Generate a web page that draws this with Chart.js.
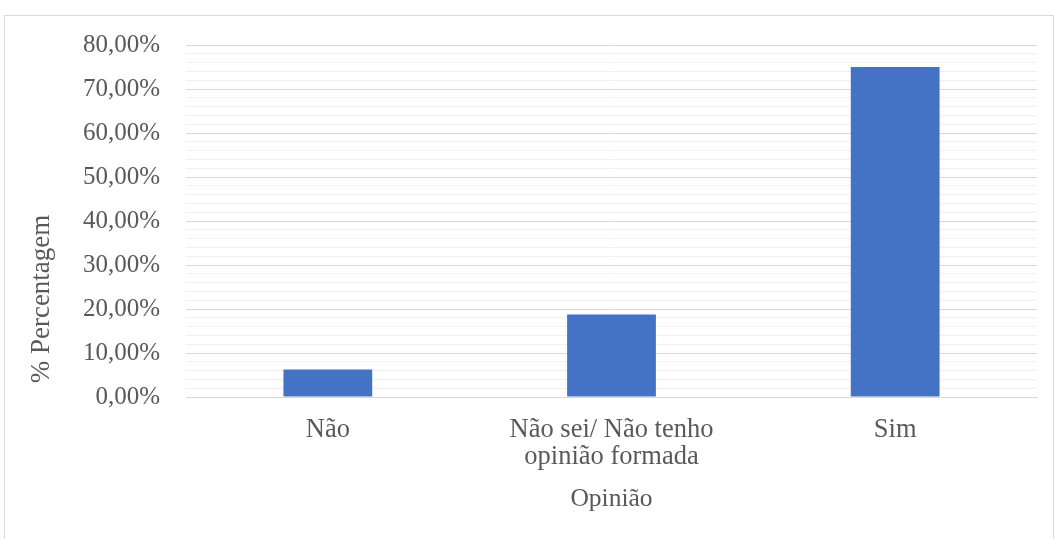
<!DOCTYPE html>
<html>
<head>
<meta charset="utf-8">
<script src="https://cdn.jsdelivr.net/npm/chart.js@4/dist/chart.umd.min.js"></script>
<style>
  html, body { margin: 0; padding: 0; background: #fff; overflow: hidden; }
  .frame {
    position: absolute; left: 4px; top: 15px;
    width: 1048px; height: 528px;
    border: 1px solid #d9d9d9;
  }
  canvas { display: block; }
</style>
</head>
<body>
<div class="frame"><canvas id="chart" width="1048" height="528"></canvas></div>
<script>
'use strict';

// ── Data ─────────────────────────────────────────────────────────
const categories = ['Não', ['Não sei/ Não tenho', 'opinião formada'], 'Sim'];
const percentages = [6.25, 18.75, 75.0];
const yMax = 80;

const textColor = '#595959';
const fontFamily = '"Liberation Serif", "Times New Roman", serif';

// ── Y title drawn at Excel's offset position ─────────────────────
const yTitlePlugin = {
  id: 'yTitle',
  afterDraw(chart) {
    const { ctx, chartArea } = chart;
    ctx.save();
    ctx.font = `27px ${fontFamily}`;
    ctx.fillStyle = textColor;
    ctx.textAlign = 'center';
    ctx.textBaseline = 'middle';
    ctx.translate(37, (chartArea.top + chartArea.bottom) / 2 + 78);
    ctx.rotate(-Math.PI / 2);
    ctx.fillText('% Percentagem', 0, 0);
    ctx.restore();
  },
};

// ── Chart ────────────────────────────────────────────────────────
const ctx = document.getElementById('chart').getContext('2d');
new Chart(ctx, {
  type: 'bar',
  data: {
    labels: categories,
    datasets: [{
      data: percentages,
      backgroundColor: '#4472c4',
      borderWidth: 0,
      categoryPercentage: 1,
      barPercentage: 0.313,
    }],
  },
  options: {
    responsive: false,
    animation: false,
    layout: { padding: { left: 0, top: 29, right: 16, bottom: 0 } },
    plugins: { legend: { display: false }, tooltip: { enabled: false } },
    scales: {
      x: {
        afterFit: (s) => { s.height = 147; s.paddingLeft = 0; s.paddingRight = 0; },
        grid: { display: false, drawTicks: false },
        border: { color: '#d9d9d9', width: 1 },
        ticks: {
          color: textColor, padding: 20, maxRotation: 0,
          font: { family: fontFamily, size: 26.5, lineHeight: 1.02 },
        },
        title: {
          display: true, text: 'Opinião', color: textColor,
          font: { family: fontFamily, size: 25.5, lineHeight: 1.2 },
          padding: { top: 0, bottom: 29 },
        },
      },
      y: {
        min: 0, max: yMax,
        afterFit: (s) => { s.width = 181; s.paddingTop = 0; s.paddingBottom = 0; },
        border: { display: false },
        grid: {
          drawTicks: false,
          color: (c) => (c.tick && c.tick.value % 10 === 0 ? '#d9d9d9' : '#f0f0f0'),
          lineWidth: 1,
        },
        ticks: {
          stepSize: 2, autoSkip: false, color: textColor, padding: 26,
          font: { family: fontFamily, size: 25 },
          callback: (v) => (v % 10 === 0 ? v.toFixed(2).replace('.', ',') + '%' : ''),
        },
      },
    },
  },
  plugins: [yTitlePlugin],
});
</script>
</body>
</html>
